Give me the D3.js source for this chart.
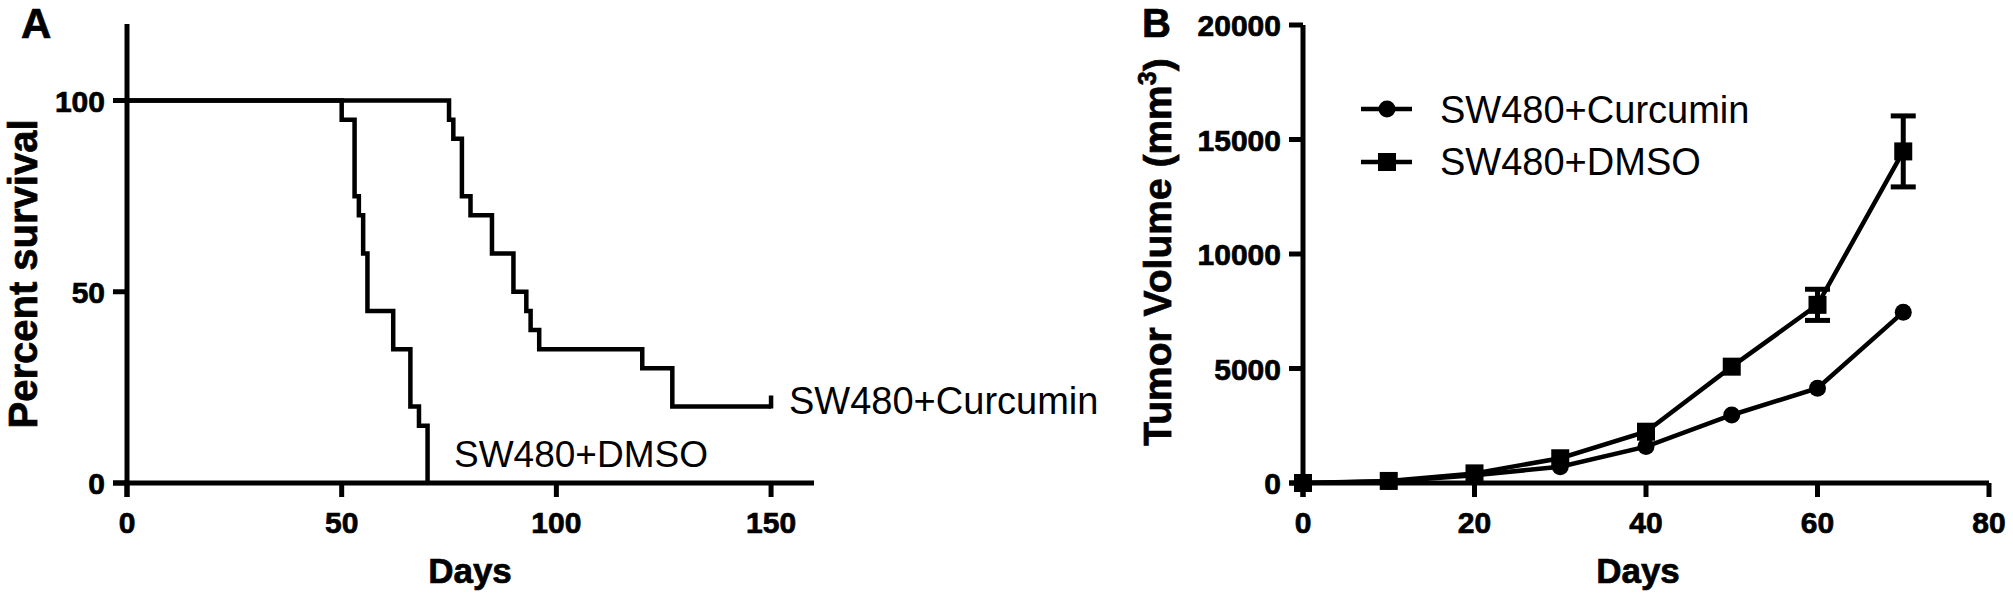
<!DOCTYPE html>
<html><head><meta charset="utf-8">
<script src="https://cdn.jsdelivr.net/npm/d3@7"></script>
<style>
html,body{margin:0;padding:0;background:#fff;}
svg{display:block;}
text{font-family:"Liberation Sans",Arial,sans-serif;fill:#000;}
text.b{font-weight:bold;stroke:#000;stroke-width:0.7px;}
</style></head>
<body>
<svg id="c" width="2013" height="599"></svg>
<script>
// ---- Panel A: Kaplan-Meier survival ----
const dmsoTimes = [0, 50, 53, 54, 55, 56, 62, 66, 68, 70];
const dmsoSurv  = [100, 95, 75, 70, 60, 45, 35, 20, 15, 0];
const curTimes  = [0, 75, 76, 78, 80, 85, 90, 93, 94, 96, 120, 127, 150];
const curSurv   = [100, 95, 90, 75, 70, 60, 50, 45, 40, 35, 30, 20, 20];
const survXTicks = [0, 50, 100, 150];
const survYTicks = [0, 50, 100];

// ---- Panel B: tumor volume ----
const days       = [0, 10, 20, 30, 40, 50, 60, 70];
const curVolume  = [0, 70, 340, 710, 1590, 2970, 4140, 7460];
const dmsoVolume = [0, 90, 420, 1080, 2240, 5080, 7780, 14480];
const dmsoErr    = [0, 0, 0, 0, 0, 0, 680, 1550];
const volXTicks  = [0, 20, 40, 60, 80];
const volYTicks  = [0, 5000, 10000, 15000, 20000];

const svg = d3.select("#c");
const AX = 5, LW = 4.5, TICK = 14;

function drawAxes(g, x, y, xt, yt, fmt) {
  const [x0, x1] = x.range();
  const [y0, y1] = y.range();
  g.append("line").attr("x1", x0 - TICK).attr("x2", x1).attr("y1", y0).attr("y2", y0)
    .attr("stroke", "#000").attr("stroke-width", AX);
  g.append("line").attr("x1", x0).attr("x2", x0).attr("y1", y0 + TICK).attr("y2", y1)
    .attr("stroke", "#000").attr("stroke-width", AX);
  xt.forEach(v => {
    g.append("line").attr("x1", x(v)).attr("x2", x(v)).attr("y1", y0).attr("y2", y0 + TICK)
      .attr("stroke", "#000").attr("stroke-width", AX);
    g.append("text").attr("class", "b").attr("x", x(v)).attr("y", y0 + 50).attr("text-anchor", "middle")
      .attr("font-size", 30).text(fmt(v));
  });
  yt.forEach(v => {
    g.append("line").attr("x1", x0 - TICK).attr("x2", x0).attr("y1", y(v)).attr("y2", y(v))
      .attr("stroke", "#000").attr("stroke-width", AX);
    g.append("text").attr("class", "b").attr("x", x0 - TICK - 8).attr("y", y(v) + 11).attr("text-anchor", "end")
      .attr("font-size", 30).text(fmt(v));
  });
}

// Panel A
const gA = svg.append("g");
const xA = d3.scaleLinear().domain([0, 160]).range([127, 814]);
const yA = d3.scaleLinear().domain([0, 120]).range([483, 24]);
drawAxes(gA, xA, yA, survXTicks, survYTicks, d => d);

const step = d3.line().curve(d3.curveStepAfter).x(d => xA(d[0])).y(d => yA(d[1]));
gA.append("path").datum(dmsoTimes.map((t, i) => [t, dmsoSurv[i]]))
  .attr("d", step).attr("fill", "none").attr("stroke", "#000").attr("stroke-width", LW);
gA.append("path").datum(curTimes.map((t, i) => [t, curSurv[i]]))
  .attr("d", step).attr("fill", "none").attr("stroke", "#000").attr("stroke-width", LW);
const lastT = curTimes[curTimes.length - 1], lastS = curSurv[curSurv.length - 1];
gA.append("line").attr("x1", xA(lastT)).attr("x2", xA(lastT))
  .attr("y1", yA(lastS) + 2).attr("y2", yA(lastS) - 11).attr("stroke", "#000").attr("stroke-width", LW);

gA.append("text").attr("x", 789).attr("y", 414).attr("font-size", 38).text("SW480+Curcumin");
gA.append("text").attr("x", 454).attr("y", 467).attr("font-size", 37).text("SW480+DMSO");
gA.append("text").attr("class", "b").attr("x", 470).attr("y", 583).attr("text-anchor", "middle")
  .attr("font-size", 35).text("Days");
gA.append("text").attr("class", "b").attr("transform", "translate(37,274) rotate(-90)").attr("text-anchor", "middle")
  .attr("font-size", 40).text("Percent survival");
gA.append("text").attr("class", "b").attr("x", 21).attr("y", 38).attr("font-size", 42).text("A");

// Panel B
const gB = svg.append("g");
const xB = d3.scaleLinear().domain([0, 80]).range([1303, 1989]);
const yB = d3.scaleLinear().domain([0, 20000]).range([483, 25]);
drawAxes(gB, xB, yB, volXTicks, volYTicks, d => d);

const ln = d3.line().x(d => xB(d[0])).y(d => yB(d[1]));
const curPts = days.map((d, i) => [d, curVolume[i]]);
const dmsoPts = days.map((d, i) => [d, dmsoVolume[i]]);
gB.append("path").datum(curPts).attr("d", ln).attr("fill", "none").attr("stroke", "#000").attr("stroke-width", LW);
gB.append("path").datum(dmsoPts).attr("d", ln).attr("fill", "none").attr("stroke", "#000").attr("stroke-width", LW);
days.forEach((d, i) => {
  if (!dmsoErr[i]) return;
  const cx = xB(d), t = yB(dmsoVolume[i] + dmsoErr[i]), b = yB(dmsoVolume[i] - dmsoErr[i]);
  gB.append("line").attr("x1", cx).attr("x2", cx).attr("y1", t).attr("y2", b).attr("stroke", "#000").attr("stroke-width", 5);
  [t, b].forEach(yy => gB.append("line").attr("x1", cx - 12.5).attr("x2", cx + 12.5)
    .attr("y1", yy).attr("y2", yy).attr("stroke", "#000").attr("stroke-width", 5));
});
gB.selectAll(".circ").data(curPts).enter().append("circle")
  .attr("cx", d => xB(d[0])).attr("cy", d => yB(d[1])).attr("r", 8.5).attr("fill", "#000");
gB.selectAll(".sq").data(dmsoPts).enter().append("rect")
  .attr("x", d => xB(d[0]) - 9).attr("y", d => yB(d[1]) - 9).attr("width", 18).attr("height", 18).attr("fill", "#000");

// legend
gB.append("line").attr("x1", 1361).attr("x2", 1412).attr("y1", 109).attr("y2", 109).attr("stroke", "#000").attr("stroke-width", LW);
gB.append("circle").attr("cx", 1387).attr("cy", 109).attr("r", 8.5).attr("fill", "#000");
gB.append("text").attr("x", 1440).attr("y", 123).attr("font-size", 38).text("SW480+Curcumin");
gB.append("line").attr("x1", 1361).attr("x2", 1412).attr("y1", 162).attr("y2", 162).attr("stroke", "#000").attr("stroke-width", LW);
gB.append("rect").attr("x", 1378).attr("y", 153).attr("width", 18).attr("height", 18).attr("fill", "#000");
gB.append("text").attr("x", 1440).attr("y", 175).attr("font-size", 38).text("SW480+DMSO");

gB.append("text").attr("class", "b").attr("x", 1638).attr("y", 583).attr("text-anchor", "middle")
  .attr("font-size", 35).text("Days");
const yt = gB.append("text").attr("class", "b").attr("transform", "translate(1171,252) rotate(-90)").attr("text-anchor", "middle")
  .attr("font-size", 39);
yt.append("tspan").text("Tumor Volume (mm");
yt.append("tspan").attr("font-size", 25).attr("dy", -15).text("3");
yt.append("tspan").attr("dy", 15).text(")");
gB.append("text").attr("class", "b").attr("x", 1142).attr("y", 37).attr("font-size", 40).text("B");
</script>
</body></html>
